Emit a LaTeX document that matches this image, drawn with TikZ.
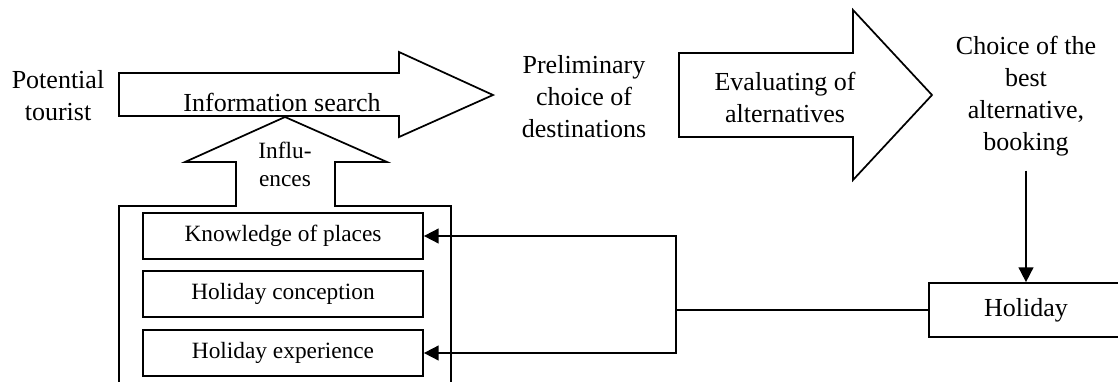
\documentclass[tikz,border=0pt]{standalone}
\usepackage{fontspec}
\setmainfont{Liberation Serif}
\usetikzlibrary{arrows.meta,positioning}

\tikzset{
    txt/.style={align=center, font=\fontsize{19.5}{24}\selectfont},
    smalltxt/.style={align=center, font=\fontsize{17.5}{21}\selectfont},
    factor/.style={draw, minimum width=210pt, minimum height=34.5pt, inner sep=0pt, font=\fontsize{17.5}{21}\selectfont},
    link/.style={-{Triangle[length=11pt,width=11pt]}},
}

\begin{document}
\begin{tikzpicture}[x=0.75pt, y=-0.75pt, line width=1.3pt]
    \useasboundingbox (0,0) rectangle (1118,382);
    \clip (0,0) rectangle (1118,382);

    % Information search arrow
    \draw (119,73) -- (399,73) -- (399,52) -- (493,95) -- (399,137) -- (399,116) -- (119,116) -- cycle;
    \node[txt] (search) at (282,102) {Information search};
    \node[txt] (tourist) at (58,96) {Potential\\tourist};
    \node[txt] (prelim) at (584,97) {Preliminary\\choice of\\destinations};

    % Evaluating arrow
    \draw (679,53) -- (853,53) -- (853,10) -- (932,95) -- (853,180) -- (853,137) -- (679,137) -- cycle;
    \node[txt] (evaluate) at (785,97) {Evaluating of\\alternatives};
    \node[txt] (choice) at (1026,96) {Choice of the\\best\\alternative,\\booking};

    % Influences arrow with the frame of factors
    \draw (119,400) -- (119,206) -- (236,206) -- (236,162) -- (185,162) -- (285,117)
        -- (387,162) -- (335,162) -- (335,206) -- (451,206) -- (451,400);
    \node[smalltxt] (influence) at (285,164) {Influ-\\ences};

    % Factors
    \node[factor] (places) at (283,236) {Knowledge of places};
    \node[factor] (conception) at (283,294) {Holiday conception};
    \node[factor] (experience) at (283,353) {Holiday experience};

    % Holiday
    \node[draw, txt, minimum width=145.5pt, minimum height=40.5pt] (holiday) at (1026,310) {Holiday};
    \coordinate (split) at (676,310);

    \draw[link, shorten <=7pt] (choice.south) -- (holiday.north);
    \draw[line width=2pt] (holiday.west) -- (split);
    \draw[link] (split) |- (places.east);
    \draw[link] (split) |- (experience.east);
\end{tikzpicture}
\end{document}
